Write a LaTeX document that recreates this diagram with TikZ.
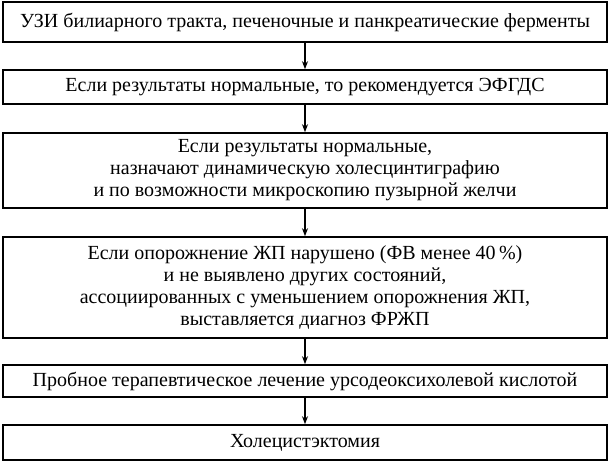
\documentclass[tikz,border=0pt]{standalone}
\usepackage{fontspec}
\setmainfont{Liberation Serif}
\usetikzlibrary{arrows.meta}
\begin{document}
\begin{tikzpicture}[x=1pt,y=-1pt,
  box/.style={draw,line width=1.6pt,minimum width=604pt,align=center,inner sep=0pt,font=\fontsize{20}{22}\selectfont},
  arr/.style={-{Stealth[length=8pt,width=6pt]},line width=1.2pt}]
\useasboundingbox (0,0) rectangle (612,465);
\node[box,minimum height=40pt] (a) at (305,22) {УЗИ билиарного тракта, печеночные и панкреатические ферменты};
\node[box,minimum height=34pt] (b) at (305,87) {Если результаты нормальные, то рекомендуется ЭФГДС};
\node[box,minimum height=75pt] (c) at (305,170.5) {Если результаты нормальные,\\назначают динамическую холесцинтиграфию\\и по возможности микроскопию пузырной желчи};
\node[box,minimum height=101pt] (d) at (305,287.5) {Если опорожнение ЖП нарушено (ФВ менее 40\,\%)\\и не выявлено других состояний,\\ассоциированных с уменьшением опорожнения ЖП,\\выставляется диагноз ФРЖП};
\node[box,minimum height=32pt] (e) at (305,381) {Пробное терапевтическое лечение урсодеоксихолевой кислотой};
\node[box,minimum height=35pt] (f) at (305,442.5) {Холецистэктомия};
\draw[arr] (a) -- (b);
\draw[arr] (b) -- (c);
\draw[arr] (c) -- (d);
\draw[arr] (d) -- (e);
\draw[arr] (e) -- (f);
\end{tikzpicture}
\end{document}
